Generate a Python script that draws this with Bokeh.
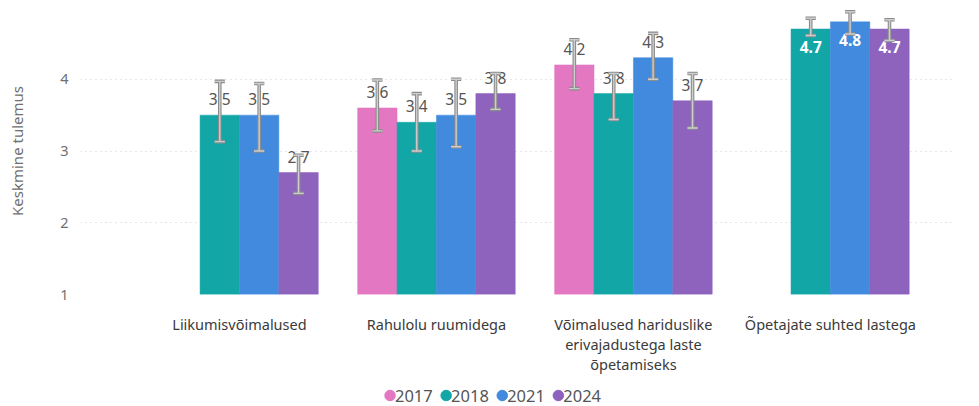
from bokeh.plotting import figure
from bokeh.models import ColumnDataSource, FixedTicker, Range1d
from bokeh.layouts import column
from bokeh.core.properties import value
from bokeh.embed import file_html
from bokeh.resources import INLINE

categories = [
    "Liikumisvõimalused",
    "Rahulolu ruumidega",
    "Võimalused hariduslike\nerivajadustega laste\nõpetamiseks",
    "Õpetajate suhted lastega",
]
years = ["2017", "2018", "2021", "2024"]
colors = ["#E377C2", "#13A6A6", "#418ADE", "#8D63BE"]

values_2017 = [None, 3.6, 4.2, None]
values_2018 = [3.5, 3.4, 3.8, 4.7]
values_2021 = [3.5, 3.5, 4.3, 4.8]
values_2024 = [2.7, 3.8, 3.7, 4.7]

low_2017 = [None, 3.28, 3.87, None]
high_2017 = [None, 3.99, 4.55, None]
low_2018 = [3.13, 3.00, 3.44, 4.61]
high_2018 = [3.97, 3.80, 4.08, 4.85]
low_2021 = [3.00, 3.06, 4.00, 4.63]
high_2021 = [3.94, 4.00, 4.64, 4.94]
low_2024 = [2.41, 3.58, 3.32, 4.54]
high_2024 = [2.94, 4.08, 4.08, 4.83]

series = [
    (values_2017, low_2017, high_2017),
    (values_2018, low_2018, high_2018),
    (values_2021, low_2021, high_2021),
    (values_2024, low_2024, high_2024),
]

FONT = "Noto Sans"
BAR_W = 0.2
CAP = 0.026
W = 978

p = figure(width=W, height=385, x_range=Range1d(-0.807, 3.635), y_range=Range1d(1, 5),
           output_backend="svg", toolbar_location=None,
           min_border_left=80, min_border_right=23, min_border_top=7, min_border_bottom=91)
p.outline_line_color = None
p.xgrid.grid_line_color = None
p.ygrid.grid_line_color = "#cfcfcf"
p.ygrid.grid_line_dash = "1 4"
p.ygrid.grid_line_width = 1

p.yaxis.ticker = FixedTicker(ticks=[1, 2, 3, 4])
p.xaxis.ticker = FixedTicker(ticks=[0, 1, 2, 3])
p.xaxis.major_label_overrides = {i: c for i, c in enumerate(categories)}
for ax in (p.xaxis, p.yaxis):
    ax.axis_line_color = None
    ax.major_tick_line_color = None
    ax.minor_tick_line_color = None
    ax.major_tick_out = 0
    ax.major_tick_in = 0
    ax.major_label_text_font = FONT
p.xaxis.major_label_text_font_size = "14.5px"
p.xaxis.major_label_text_color = "#3a3a3a"
p.xaxis.major_label_standoff = 19
p.xaxis.major_label_text_line_height = 1.0
p.yaxis.major_label_text_font_size = "14.5px"
p.yaxis.major_label_text_color = "#707070"
p.yaxis.major_label_standoff = 12
p.yaxis.axis_label = "Keskmine tulemus"
p.yaxis.axis_label_text_font = FONT
p.yaxis.axis_label_text_font_size = "15px"
p.yaxis.axis_label_text_font_style = "normal"
p.yaxis.axis_label_text_color = "#707070"
p.yaxis.axis_label_standoff = 30

err = {"x": [], "lo": [], "hi": []}
lab_out = {"x": [], "y": [], "t": []}
lab_in = {"x": [], "y": [], "t": []}
for j, (vals, lows, highs) in enumerate(series):
    off = (j - 1.5) * BAR_W
    xs, ys = [], []
    for i, v in enumerate(vals):
        if v is None:
            continue
        x = i + off
        xs.append(x)
        ys.append(v)
        err["x"].append(x)
        err["lo"].append(lows[i])
        err["hi"].append(highs[i])
        target = lab_in if v > 4.5 else lab_out
        target["x"].append(x)
        target["y"].append(v)
        target["t"].append(f"{v:.1f}")
    p.vbar(x=xs, top=ys, bottom=1, width=BAR_W, fill_color=colors[j], line_color=colors[j], line_width=0.5)

p.text(x="x", y="y", text="t", source=ColumnDataSource(lab_out), y_offset=-16,
       text_align="center", text_baseline="middle", text_font=value(FONT),
       text_font_size="15.5px", text_color="#555555")
p.text(x="x", y="y", text="t", source=ColumnDataSource(lab_in), y_offset=18,
       text_align="center", text_baseline="middle", text_font=value(FONT),
       text_font_size="15.5px", text_color="white", text_font_style="bold")

es = ColumnDataSource(dict(x=err["x"], lo=err["lo"], hi=err["hi"],
                           xl=[x - CAP for x in err["x"]], xr=[x + CAP for x in err["x"]]))
for col, w in (("#8c8c8c", 3.6), ("#cdcdcd", 1.4)):
    p.segment(x0="x", y0="lo", x1="x", y1="hi", source=es, line_color=col, line_width=w)
    p.segment(x0="xl", y0="lo", x1="xr", y1="lo", source=es, line_color=col, line_width=w)
    p.segment(x0="xl", y0="hi", x1="xr", y1="hi", source=es, line_color=col, line_width=w)

# legend strip (separate small figure, positions in screen pixels)
LEG_START = 346
LEG_STEP = 62.7
leg = figure(width=W, height=20, x_range=Range1d(0, W), y_range=Range1d(0, 20),
             x_axis_type=None, y_axis_type=None,
             output_backend="svg", toolbar_location=None,
             min_border_left=0, min_border_right=0, min_border_top=0, min_border_bottom=0)
leg.grid.visible = False
leg.outline_line_color = None
lx = [LEG_START + k * LEG_STEP for k in range(len(years))]
leg.scatter(x=lx, y=[10] * len(years), size=10.5, marker="circle",
            fill_color=colors, line_color=colors)
leg.text(x=[x + 5.5 for x in lx], y=[10] * len(years), text=years,
         text_align="left", text_baseline="middle", text_font=value(FONT),
         text_font_size="16.5px", text_color="#555555")

layout = column(p, leg, spacing=0)
open("out.html", "w").write(file_html(layout, INLINE))
